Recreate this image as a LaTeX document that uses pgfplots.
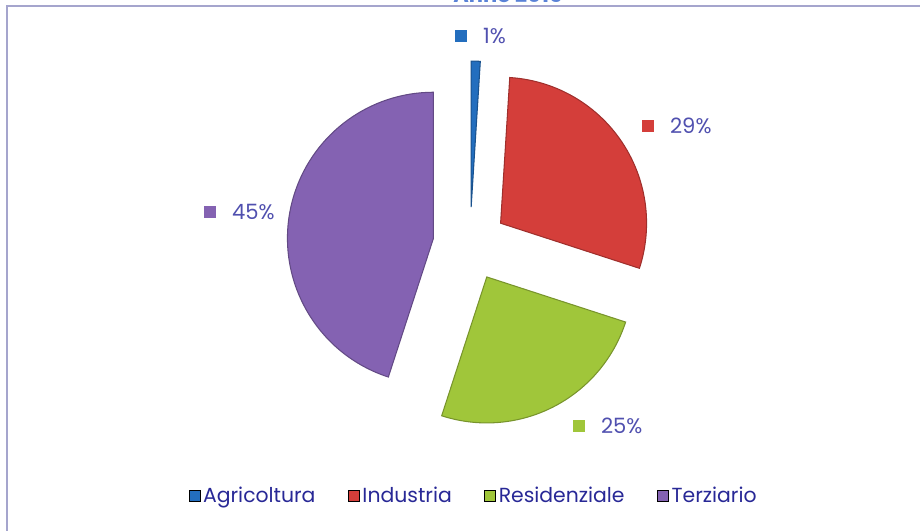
\documentclass[border=0pt]{standalone}
\usepackage{pgfplots}
\pgfplotsset{compat=1.18}
\usepackage{pgfplotstable}
\usepackage{fontspec}
\setmainfont{Poppins}

\definecolor{agri}{RGB}{35,110,190}
\definecolor{indu}{RGB}{212,62,58}
\definecolor{resi}{RGB}{160,198,58}
\definecolor{terz}{RGB}{132,98,178}
\definecolor{labc}{RGB}{80,80,175}
\definecolor{legc}{RGB}{40,40,150}
\definecolor{titc}{RGB}{90,130,215}
\definecolor{framec}{RGB}{165,165,205}

% share (%), colour, label position (square left edge, centre height)
\pgfplotstableread{
name val col lx ly
Agricoltura 1 agri 455 495
Industria 29 indu 642 405
Residenziale 25 resi 573 105
Terziario 45 terz 204 319
}\piedata

\pgfplotsset{sq legend/.style={legend image code/.code={\fill[##1] (0cm,-0.11cm) rectangle (0.22cm,0.11cm);}}}

\begin{document}
\begin{tikzpicture}
\begin{axis}[
    name=ax,
    x=0.02cm, y=0.02cm,
    xmin=0, xmax=920, ymin=0, ymax=531,
    hide axis, clip=false,
    legend columns=4,
    legend style={at={(axis cs:474,35)}, anchor=center, draw=none, fill=none,
        text=legc, font=\fontsize{11.6}{13}\selectfont,
        nodes={inner xsep=1.5pt},
        /tikz/every even column/.append style={column sep=0.6cm}},
    legend cell align=left,
]
\addlegendimage{sq legend, fill=agri}\addlegendentry{Agricoltura}
\addlegendimage{sq legend, fill=indu}\addlegendentry{Industria}
\addlegendimage{sq legend, fill=resi}\addlegendentry{Residenziale}
\addlegendimage{sq legend, fill=terz}\addlegendentry{Terziario}

\pgfplotsextra{
  \draw[framec, line width=1.2pt] (axis cs:7,0) -- (axis cs:7,525) -- (axis cs:920,525);
  \node[anchor=base, text=titc, font=\bfseries\fontsize{12}{14}\selectfont] at (axis cs:508,528) {Anno 2015};
  \gdef\acc{0}
  \foreach \i in {0,...,3}{
    \pgfplotstablegetelem{\i}{val}\of\piedata\let\sv\pgfplotsretval
    \pgfplotstablegetelem{\i}{col}\of\piedata\let\scol\pgfplotsretval
    \pgfplotstablegetelem{\i}{lx}\of\piedata\let\lx\pgfplotsretval
    \pgfplotstablegetelem{\i}{ly}\of\piedata\let\ly\pgfplotsretval
    \pgfmathsetmacro\sa{90-3.6*\acc}
    \pgfmathsetmacro\ea{90-3.6*(\acc+\sv)}
    \pgfmathsetmacro\ma{(\sa+\ea)/2}
    \fill[\scol, draw=\scol!75!black, line width=0.6pt]
      (axis cs:470,287) ++(\ma:0.74cm) -- ++(\sa:2.92cm)
      arc[start angle=\sa, end angle=\ea, radius=2.92cm] -- cycle;
    \node[anchor=west, inner sep=0pt, text=labc, font=\fontsize{12}{14}\selectfont]
      at (axis cs:\lx,\ly) {\textcolor{\scol}{\rule[1.0pt]{6.8pt}{6.8pt}}\hspace{9pt}\sv\%};
    \pgfmathsetmacro\nacc{\acc+\sv}\xdef\acc{\nacc}
  }
}
\end{axis}
\pgfresetboundingbox
\path (ax.south west) rectangle (ax.north east);
\end{tikzpicture}
\end{document}
